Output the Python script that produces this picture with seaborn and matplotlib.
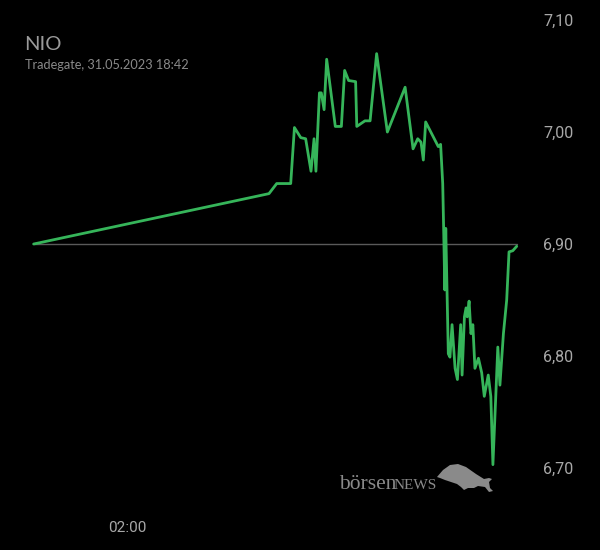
import matplotlib
matplotlib.use("Agg")
import matplotlib.pyplot as plt
import seaborn as sns
import pandas as pd
from matplotlib.patches import Polygon

# ---- data (hours since midnight of 31.05.2023; -2 = 22:00 previous day) ----
hours = [-2.0, 8.08, 8.41, 9.01, 9.17, 9.44, 9.65, 9.88, 10.01, 10.09, 10.24,
         10.32, 10.44, 10.55, 10.92, 11.18, 11.32, 11.49, 11.79, 11.84, 12.19,
         12.41, 12.69, 13.15, 13.91, 14.25, 14.45, 14.59, 14.69, 14.79, 15.33,
         15.43, 15.52, 15.56, 15.61, 15.65, 15.76, 15.83, 15.92, 16.05, 16.15,
         16.29, 16.35, 16.45, 16.52, 16.57, 16.65, 16.73, 16.81, 16.90, 17.05,
         17.19, 17.30, 17.47, 17.58, 17.67, 17.88, 17.97, 18.12, 18.26, 18.36,
         18.52, 18.69]
prices = [6.900, 6.945, 6.954, 6.954, 7.004, 6.995, 6.994, 6.965, 6.994, 6.965,
          7.035, 7.035, 7.020, 7.065, 7.005, 7.005, 7.055, 7.046, 7.045, 7.005,
          7.010, 7.010, 7.070, 7.000, 7.040, 6.985, 6.994, 6.991, 6.975, 7.009,
          6.987, 6.989, 6.954, 6.914, 6.859, 6.914, 6.802, 6.799, 6.828, 6.789,
          6.779, 6.828, 6.783, 6.835, 6.843, 6.835, 6.849, 6.820, 6.828, 6.789,
          6.798, 6.785, 6.764, 6.783, 6.764, 6.703, 6.808, 6.774, 6.820, 6.850,
          6.893, 6.894, 6.898]
prev_close = 6.90
y_ticks = [6.70, 6.80, 6.90, 7.00, 7.10]
y_tick_labels = ["6,70", "6,80", "6,90", "7,00", "7,10"]
x_ticks = [2.0]
x_tick_labels = ["02:00"]
title = "NIO"
subtitle = "Tradegate, 31.05.2023 18:42"

df = pd.DataFrame({"hour": hours, "price": prices})

sns.set_style("dark")
plt.rcParams["font.family"] = ["Roboto", "DejaVu Sans"]

W, H = 600, 550
X0, X1 = -3.44, 18.83
fig = plt.figure(figsize=(6, 5.5), dpi=100, facecolor="black")
ax = fig.add_axes([0, 40 / H, 520 / W, 510 / H])
ax.set_facecolor("black")

ax.axhline(prev_close, xmin=(hours[0] - X0) / (X1 - X0), xmax=(hours[-1] - X0) / (X1 - X0),
           color="#5a5a5a", lw=1.0, zorder=1)
sns.lineplot(data=df, x="hour", y="price", ax=ax, color="#36b55a", lw=2.0,
             estimator=None, sort=False, zorder=3)

ax.set_xlim(X0, X1)
ax.set_ylim(6.6625, 7.1179)
ax.set_xlabel("")
ax.set_ylabel("")
ax.grid(False)
for s in ax.spines.values():
    s.set_visible(False)

ax.yaxis.tick_right()
ax.set_yticks(y_ticks)
ax.set_yticklabels(y_tick_labels)
ax.set_xticks(x_ticks)
ax.set_xticklabels(x_tick_labels)
ax.tick_params(axis="y", length=0, pad=16.5, labelsize=11.5, labelcolor="#a8a8a8")
ax.tick_params(axis="x", length=0, pad=8, labelsize=11, labelcolor="#a8a8a8")
for lab in ax.get_yticklabels():
    lab.set_horizontalalignment("left")


def px(x, y):
    return x / W, 1 - y / H


fig.text(*px(24, 44), title, fontsize=14.5, color="#9a9a9a", va="center", ha="left",
         family=["Lato", "DejaVu Sans"])
fig.text(*px(25, 65), subtitle, fontsize=9.2, color="#8a8a8a", va="center", ha="left",
         family=["Lato", "DejaVu Sans"])

# watermark
fig.text(*px(339, 489), "börsen", fontsize=15.5, color="#8a8a8a", va="baseline", ha="left",
         family=["Liberation Serif", "DejaVu Serif"])
fig.text(*px(437, 489), "NEWS", fontsize=11, color="#8a8a8a", va="baseline", ha="right",
         family=["Liberation Serif", "DejaVu Serif"])
bull = [(437, 477), (443, 470), (450, 465), (458, 464), (466, 467), (476, 474), (484, 479),
        (489, 478), (492, 479), (489, 482), (490, 488), (493, 491), (489, 492), (485, 487),
        (478, 486), (474, 488), (468, 488), (464, 490), (461, 487), (457, 484), (451, 482),
        (445, 480), (440, 478)]
fig.patches.append(Polygon([px(x, y) for x, y in bull], closed=True, transform=fig.transFigure,
                           facecolor="#8a8a8a", edgecolor="none"))

fig.savefig("out.png", dpi=100, facecolor="black")
